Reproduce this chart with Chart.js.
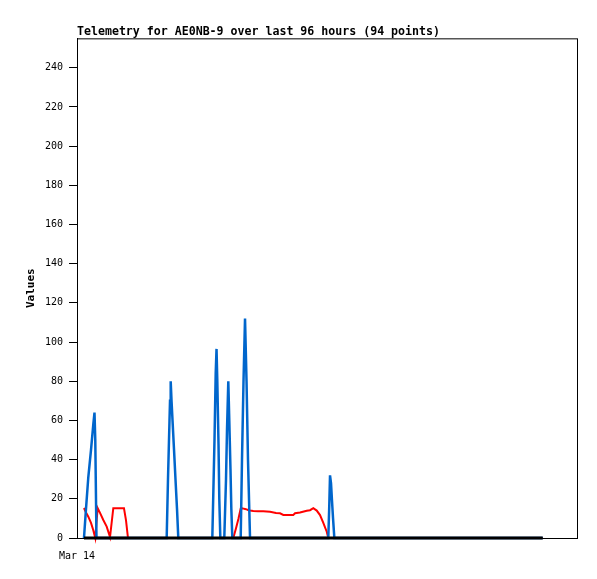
<!DOCTYPE html>
<html>
<head>
<meta charset="utf-8">
<script src="https://cdn.jsdelivr.net/npm/chart.js@4/dist/chart.umd.min.js"></script>
<style>
  body { margin: 0; background: #fff; }
  canvas { display: block; }
</style>
</head>
<body>
<canvas id="telemetry" width="597" height="579"></canvas>
<script>
// hours since start of the 96 hour window
const hours = [
  1.34, 1.73, 2.17, 2.69, 3.13, 3.36, 3.51, 3.74, 3.97, 4.42,
  5.05, 5.70, 6.34, 6.97, 8.01, 9.02, 9.41, 9.79, 10.75, 11.71,
  12.67, 13.63, 14.59, 15.55, 16.51, 17.22, 17.47, 17.76, 17.86, 17.99,
  18.15, 18.34, 18.63, 18.91, 19.20, 19.45, 20.35, 21.31, 22.27, 23.23,
  24.19, 25.15, 25.98, 26.40, 26.63, 26.79, 26.94, 27.17, 27.32, 27.52,
  28.28, 28.61, 28.80, 29.05, 29.24, 29.47, 29.63, 29.82, 30.01, 30.53,
  31.01, 31.43, 31.68, 31.97, 32.26, 32.55, 32.83, 33.22, 33.85, 34.75,
  35.77, 37.06, 38.21, 38.98, 39.61, 40.51, 41.53, 41.86, 42.82, 44.11,
  44.74, 45.37, 46.03, 46.66, 47.29, 47.95, 48.25, 48.43, 48.58, 48.77,
  48.96, 49.16, 49.41, 89.42
];

const blueVals = [
  0, 15, 31, 45, 58, 64, 50, 0, 0, 0,
  0, 0, 0, 0, 0, 0, 0, 0, 0, 0,
  0, 0, 0, 0, 0, 0, 30, 60, 70, 80,
  70, 60, 45, 30, 15, 0, 0, 0, 0, 0,
  0, 0, 0, 50, 84, 96.5, 80, 48, 20, 0,
  0, 30, 55, 80, 60, 35, 15, 0, 0, 0,
  0, 0, 40, 80, 112, 80, 40, 0, 0, 0,
  0, 0, 0, 0, 0, 0, 0, 0, 0, 0,
  0, 0, 0, 0, 0, 0, 0, 16, 32, 28,
  19, 10, 0, 0
];

const redVals = [
  15.3, 13, 10.9, 7.7, 4, 1.5, 0, 8, 15.2, 12.8,
  9.2, 5.8, 0.5, 15.2, 15.2, 15.2, 9, 0, 0, 0,
  0, 0, 0, 0, 0, 0, 0, 0, 0, 0,
  0, 0, 0, 0, 0, 0, 0, 0, 0, 0,
  0, 0, 0, 0, 0, 0, 0, 0, 0, 0,
  0, 0, 0, 0, 0, 0, 0, 0, 0, 5,
  10, 15, 15.2, 15, 14.8, 14.6, 14.3, 14, 13.8, 13.6,
  13.6, 13.4, 12.8, 12.6, 11.8, 11.8, 11.8, 12.6, 13, 13.9,
  14.2, 15.2, 14, 11.7, 7.7, 3.2, 0, 0, 0, 0,
  0, 0, 0, 0
];

const blackVals = [
  0, 0, 0, 0, 0, 0, 0, 0, 0, 0,
  0, 0, 0, 0, 0, 0, 0, 0, 0, 0,
  0, 0, 0, 0, 0, 0, 0, 0, 0, 0,
  0, 0, 0, 0, 0, 0, 0, 0, 0, 0,
  0, 0, 0, 0, 0, 0, 0, 0, 0, 0,
  0, 0, 0, 0, 0, 0, 0, 0, 0, 0,
  0, 0, 0, 0, 0, 0, 0, 0, 0, 0,
  0, 0, 0, 0, 0, 0, 0, 0, 0, 0,
  0, 0, 0, 0, 0, 0, 0, 0, 0, 0,
  0, 0, 0, 0
];

const xLabels = ["Mar 14"];
const yTicks = [0, 20, 40, 60, 80, 100, 120, 140, 160, 180, 200, 220, 240];

const MONO = "'DejaVu Sans Mono', 'Liberation Mono', monospace";

const toPoints = (vals) => hours.map((h, i) => ({ x: h, y: vals[i] }));

// frame around the plot (top + right edges)
const framePlugin = {
  id: "frame",
  afterDraw(chart) {
    const { ctx, chartArea: a } = chart;
    ctx.save();
    ctx.strokeStyle = "#000";
    ctx.lineWidth = 1;
    ctx.strokeRect(a.left + 0.5, a.top + 0.5, a.right - a.left, a.bottom - a.top);
    ctx.restore();
  },
};

const line = (vals, color, width) => ({
  data: toPoints(vals),
  borderColor: color,
  borderWidth: width,
  pointRadius: 0,
  tension: 0,
  fill: false,
  clip: false,
});

new Chart(document.getElementById("telemetry"), {
  type: "line",
  data: {
    datasets: [
      line(blackVals, "#000000", 3),
      line(blueVals, "#0066cc", 2.5),
      line(redVals, "#ff0000", 2),
    ],
  },
  options: {
    responsive: false,
    animation: false,
    devicePixelRatio: 1,
    layout: { padding: { left: 0, right: 20, top: 25, bottom: 0 } },
    plugins: {
      legend: { display: false },
      tooltip: { enabled: false },
      title: {
        display: true,
        text: "Telemetry for AE0NB-9 over last 96 hours (94 points)",
        align: "start",
        fullSize: false,
        color: "#000",
        font: { family: MONO, size: 11.6, weight: "bold", lineHeight: 1.15 },
        padding: { top: 0, bottom: 0 },
      },
    },
    scales: {
      x: {
        type: "linear",
        min: 0,
        max: 96,
        afterFit: (s) => { s.height = 41; },
        afterBuildTicks: (s) => { s.ticks = [{ value: 0 }]; },
        grid: { drawOnChartArea: false, drawTicks: false },
        border: { display: true, color: "#000", width: 1 },
        ticks: {
          autoSkip: false,
          maxRotation: 0,
          padding: 12,
          color: "#000",
          font: { family: MONO, size: 10 },
          callback: (v, i) => xLabels[i],
        },
      },
      y: {
        min: 0,
        max: 255,
        afterFit: (s) => { s.width = 77; },
        afterBuildTicks: (s) => { s.ticks = yTicks.map((v) => ({ value: v })); },
        grid: { drawOnChartArea: false, drawTicks: true, tickLength: 8, color: "#000" },
        border: { display: true, color: "#000", width: 1 },
        ticks: {
          padding: 6,
          color: "#000",
          font: { family: MONO, size: 10 },
        },
        title: {
          display: true,
          text: "Values",
          color: "#000",
          font: { family: MONO, size: 11, weight: "bold", lineHeight: 1.2 },
          padding: { top: 25, bottom: 0 },
        },
      },
    },
  },
  plugins: [framePlugin],
});
</script>
</body>
</html>
